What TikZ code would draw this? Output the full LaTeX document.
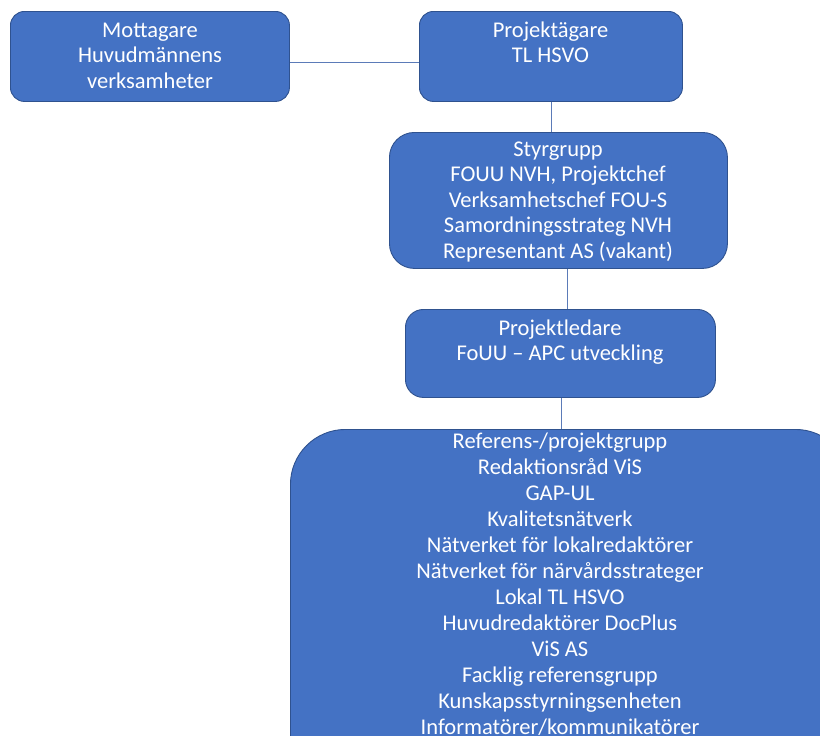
\documentclass[tikz,border=0pt]{standalone}
\usepackage{fontspec}
\setmainfont{Carlito}
\definecolor{boxfill}{HTML}{4472C4}
\definecolor{boxedge}{HTML}{2F528F}
\definecolor{conncol}{HTML}{5B7BB8}
\begin{document}
\begin{tikzpicture}[x=1pt,y=-1pt,
  box/.style={draw=boxedge, fill=boxfill, line width=0.9pt, inner sep=0pt, anchor=north west},
  txt/.style={text=white, align=center, inner sep=0pt, anchor=base, font=\fontsize{22.5}{25.6}\selectfont},
  conn/.style={draw=conncol, line width=0.8pt}]
\path[use as bounding box] (0,0) rectangle (820,736);
\clip (0,0) rectangle (820,736);
\node[box, rounded corners=14pt, minimum width=279pt, minimum height=90pt] (mott) at (10,11) {};
\node[box, rounded corners=14pt, minimum width=263pt, minimum height=90pt] (proj) at (419,11) {};
\node[box, rounded corners=25pt, minimum width=338pt, minimum height=136pt] (styr) at (389,132) {};
\node[box, rounded corners=18pt, minimum width=310pt, minimum height=88pt] (pl) at (405,309) {};
\node[box, rounded corners=55pt, minimum width=560pt, minimum height=400pt] (big) at (290,429) {};
% anchor=base of a multi-line node is the baseline of its last line
\node[txt] (mottT) at (150,88.2) {Mottagare\\Huvudmännens\\verksamheter};
\node[txt] (projT) at (550.5,62.6) {Projektägare\\TL HSVO};
\node[txt] (styrT) at (558,258.4) {Styrgrupp\\FOUU NVH, Projektchef\\Verksamhetschef FOU-S\\Samordningsstrateg NVH\\Representant AS (vakant)};
\node[txt] (plT) at (560,360.6) {Projektledare\\FoUU – APC utveckling};
\node[txt, font=\fontsize{22.5}{26}\selectfont] (bigT) at (560,734) {Referens-/projektgrupp\\Redaktionsråd ViS\\GAP-UL\\Kvalitetsnätverk\\Nätverket för lokalredaktörer\\Nätverket för närvårdsstrateger\\Lokal TL HSVO\\Huvudredaktörer DocPlus\\ViS AS\\Facklig referensgrupp\\Kunskapsstyrningsenheten\\Informatörer/kommunikatörer};
\draw[conn] ([yshift=-6pt]mott.east) -- ([yshift=-6pt]proj.west);
\draw[conn] (proj.south) -- (proj.south |- styr.north);
\draw[conn] ([xshift=9pt]styr.south) -- ([xshift=9pt]styr.south |- pl.north);
\draw[conn] ([xshift=1pt]pl.south) -- ([xshift=1pt]pl.south |- big.north);
\end{tikzpicture}
\end{document}
